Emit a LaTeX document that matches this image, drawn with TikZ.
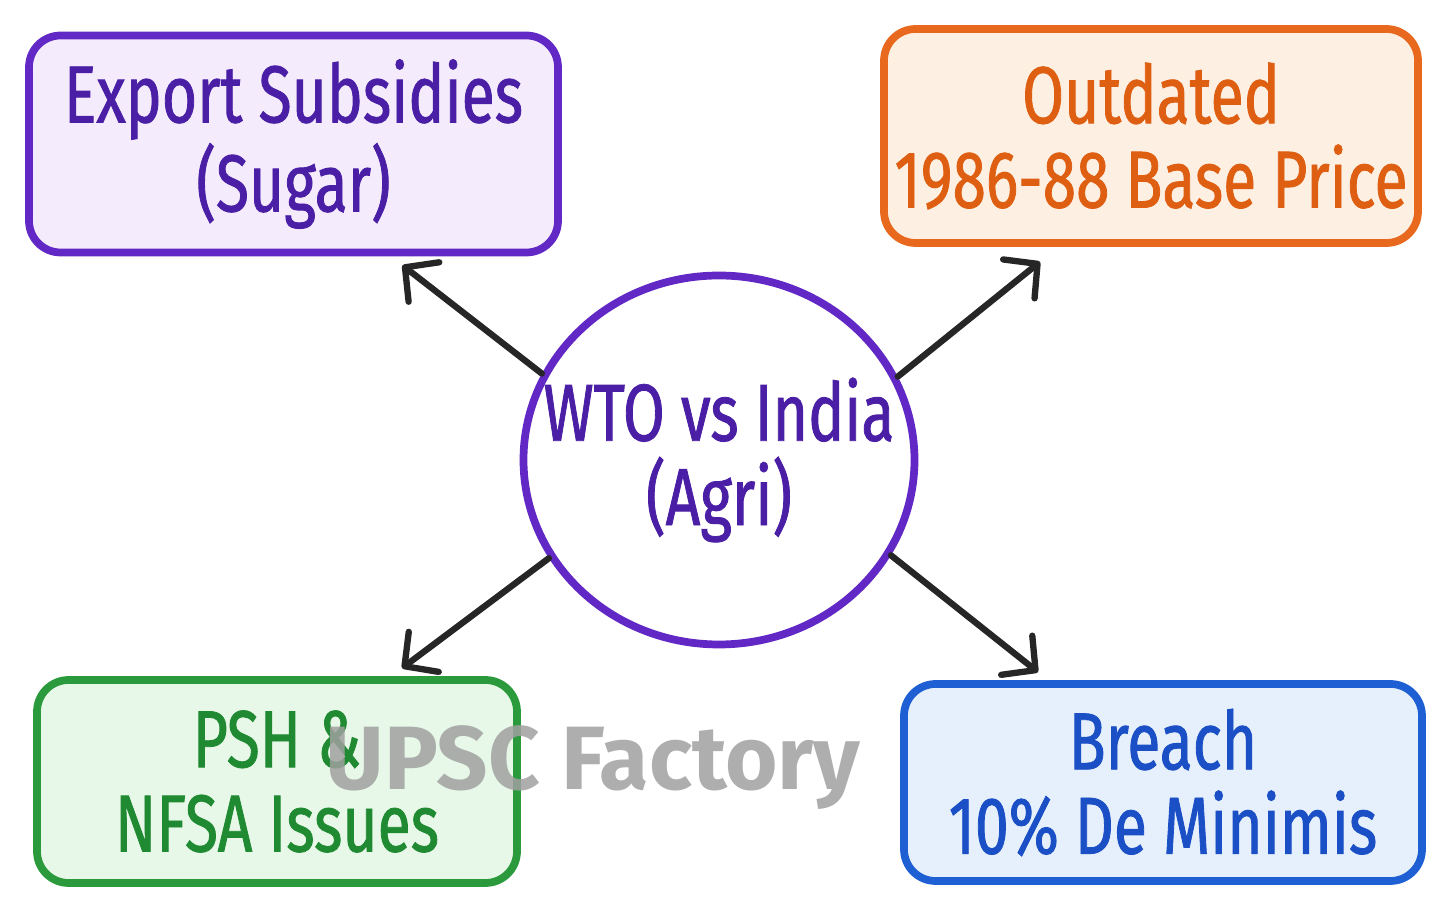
\documentclass[tikz,border=0pt]{standalone}
\usepackage{fontspec}
\setmainfont{Fira Sans}
\newfontfamily\handfont[FakeStretch=0.75,FakeBold=1]{Fira Sans}
\usetikzlibrary{arrows.meta,shapes.geometric}
\definecolor{purpleline}{HTML}{6228C6}
\definecolor{purpletext}{HTML}{4A1FA6}
\definecolor{purplefill}{HTML}{F4EBFC}
\definecolor{orangeline}{HTML}{E8681E}
\definecolor{orangetext}{HTML}{DF5F12}
\definecolor{orangefill}{HTML}{FDF0E3}
\definecolor{greenline}{HTML}{2A9A3C}
\definecolor{greentext}{HTML}{1F8A31}
\definecolor{greenfill}{HTML}{E7F8E8}
\definecolor{blueline}{HTML}{1F5FD4}
\definecolor{bluetext}{HTML}{1B4FC6}
\definecolor{bluefill}{HTML}{E6F0FC}
\definecolor{markgray}{HTML}{A0A0A0}
\begin{document}
\begin{tikzpicture}[
  every node/.style={font=\handfont\fontsize{23}{24}\selectfont, align=center},
  topic/.style={draw, line width=2.2pt, rounded corners=9pt, inner sep=0pt},
  link/.style={-{Straight Barb[round,length=2.4mm,width=5mm]}, line width=1.8pt, black!85, line cap=round}
]
\useasboundingbox (0,0) rectangle (14.51,9.12);
% topic boxes
\node[topic,draw=purpleline,fill=purplefill,text=purpletext,minimum width=5.29cm,minimum height=2.17cm] (export) at (2.935,7.68) {Export Subsidies\\(Sugar)};
\node[topic,draw=orangeline,fill=orangefill,text=orangetext,minimum width=5.34cm,minimum height=2.14cm] (outdated) at (11.51,7.76) {Outdated\\1986-88 Base Price};
\node[topic,draw=greenline,fill=greenfill,text=greentext,minimum width=4.80cm,minimum height=2.03cm] (psh) at (2.77,1.305) {PSH \&\\NFSA Issues};
\node[topic,draw=blueline,fill=bluefill,text=bluetext,minimum width=5.18cm,minimum height=1.97cm] (breach) at (11.63,1.295) {Breach\\10\% De Minimis};
% hub
\node[ellipse,draw=purpleline,line width=2.2pt,fill=white,text=purpletext,minimum width=3.91cm,minimum height=3.69cm,inner sep=0pt] (hub) at (7.19,4.52) {\makebox[0pt]{WTO vs India}\\\makebox[0pt]{(Agri)}};
% links
\draw[link] (hub.154) -- ([xshift=1.09cm,yshift=-0.09cm]export.south);
\draw[link] (hub.25) -- ([xshift=-1.11cm,yshift=-0.15cm]outdated.south);
\draw[link] (hub.210) -- ([xshift=1.25cm,yshift=0.08cm]psh.north);
\draw[link] (hub.331) -- ([xshift=-1.25cm,yshift=0.08cm]breach.north);
% watermark
\node[font=\bfseries\fontsize{25.6}{30}\selectfont,text=markgray,opacity=0.85,anchor=base] (mark) at (5.93,1.22) {UPSC Factory};
\end{tikzpicture}
\end{document}
